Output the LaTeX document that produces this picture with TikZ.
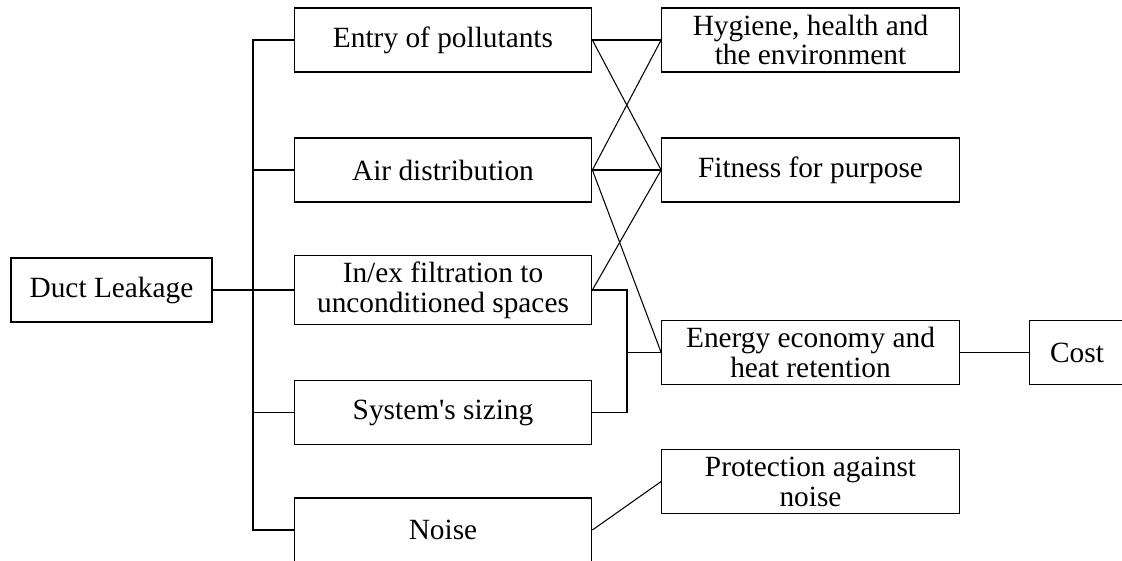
\documentclass[tikz,border=0pt]{standalone}
\usepackage{fontspec}
\setmainfont{Liberation Serif}[Ligatures=TeXOff]
\usetikzlibrary{positioning}

\tikzstyle{cause} = [rectangle, minimum width=5.95cm, minimum height=1.28cm,
text centered, align=center, draw=black, line width=0.7pt]
\tikzstyle{root} = [rectangle, minimum width=4.02cm, minimum height=1.28cm,
text centered, draw=black, line width=0.7pt]
\tikzstyle{cost} = [rectangle, minimum width=1.9cm, minimum height=1.28cm,
text centered, draw=black, line width=0.7pt]
\tikzstyle{link} = [line width=0.6pt]

\begin{document}
\begin{tikzpicture}[node distance=2.4cm, font=\fontsize{16.7}{17}\selectfont]

  \useasboundingbox (0,0) rectangle (22.44,-11.2);

  \node (entry) [cause] at (8.86,-0.8) {Entry of pollutants};
  \node (air) [cause, below of=entry, yshift=-0.2cm] {Air distribution};
  \node (inex) [cause, below of=air] {In/ex filtration to\\unconditioned spaces};
  \node (sizing) [cause, below of=inex, yshift=-0.05cm] {System's sizing};
  \node (noise) [cause, below of=sizing, yshift=0.05cm] {Noise};

  \node (duct) [root, left of=inex, xshift=-4.23cm] {Duct Leakage};

  \node (hygiene) [cause, right of=entry, xshift=4.95cm] {Hygiene, health and\\the environment};
  \node (fitness) [cause, below of=hygiene, yshift=-0.2cm] {Fitness for purpose};
  \node (energy) [cause, below of=fitness, yshift=-1.25cm] {Energy economy and\\heat retention};
  \node (protect) [cause, below of=energy, yshift=-0.18cm] {Protection against\\noise};
  \node (cost) [cost, right of=energy, xshift=2.93cm] {Cost};

  \coordinate [left of=inex, xshift=-1.4cm] (trunk);
  \coordinate [right of=inex, xshift=1.28cm] (brk);

  % tree on the left
  \draw [link] (duct) -- (inex);
  \draw [link] (entry.west) -| (trunk) |- (noise.west);
  \draw [link] (trunk |- air) -- (air);
  \draw [link] (trunk |- sizing) -- (sizing);

  % crossing lines
  \draw [link] (entry.east) -- (hygiene.west);
  \draw [link] (entry.east) -- (fitness.west);
  \draw [link] (air.east) -- (hygiene.west);
  \draw [link] (air.east) -- (fitness.west);
  \draw [link] (air.east) -- (energy.west);
  \draw [link] (inex.east) -- (fitness.west);

  \draw [link] (inex.east) -| (brk |- sizing.east) -- (sizing.east);
  \draw [link] (brk |- energy) -- (energy.west);

  \draw [link] (noise.east) -- (protect.west);
  \draw [link] (energy) -- (cost);

\end{tikzpicture}
\end{document}
